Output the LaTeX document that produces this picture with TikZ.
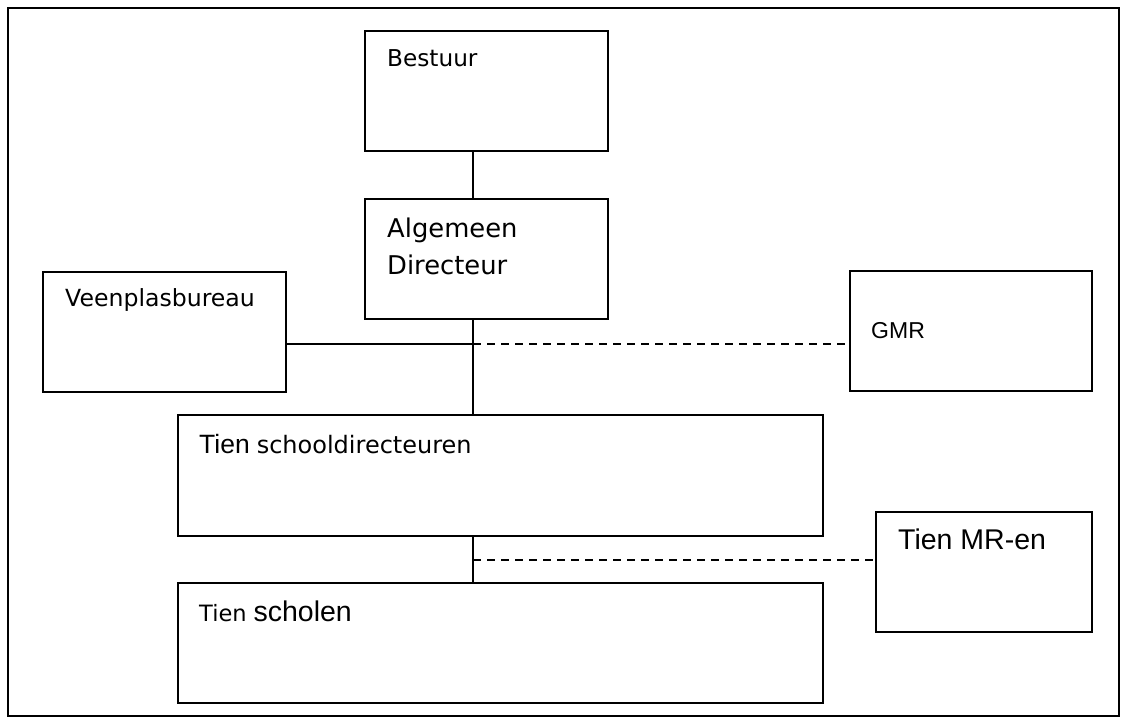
\documentclass[tikz,border=0pt]{standalone}
\usepackage{fontspec}
\setmainfont{DejaVu Sans}
\newfontfamily\arialf{Liberation Sans}
\begin{document}
\begin{tikzpicture}[x=1pt,y=-1pt,
  orgbox/.style={draw=black,line width=1.4pt,inner sep=0pt,minimum width=0pt,minimum height=0pt},
  link/.style={draw=black,line width=2pt},
  dashlink/.style={draw=black,line width=1.6pt,dash pattern=on 8pt off 6pt},
  lbl/.style={anchor=base west,inner sep=0pt,font=\fontsize{22}{26}\selectfont}]
\useasboundingbox (0,0) rectangle (1127,724);
\fill[white] (0,0) rectangle (1127,724);
\draw[line width=2pt] (8,8) rectangle (1119,716);
% boxes
\draw[orgbox] (365,31) rectangle (608,151);
\coordinate (bestuurS) at (473,151);
\draw[orgbox] (365,199) rectangle (608,319);
\coordinate (algN) at (473,199);
\coordinate (algS) at (473,319);
\draw[orgbox] (43,272) rectangle (286,392);
\coordinate (veenE) at (286,344);
\draw[orgbox] (850,271) rectangle (1092,391);
\coordinate (gmrW) at (850,344);
\draw[orgbox] (178,415) rectangle (823,536);
\coordinate (tsdN) at (473,415);
\coordinate (tsdS) at (473,536);
\draw[orgbox] (876,512) rectangle (1092,632);
\coordinate (mrW) at (876,560);
\draw[orgbox] (178,583) rectangle (823,703);
\coordinate (tsN) at (473,583);
\coordinate (j1) at (473,344);
\coordinate (j2) at (473,560);
% labels
\node[lbl,font=\fontsize{23.2}{26}\selectfont] (tb) at (387,66) {Bestuur};
\node[lbl,font=\fontsize{25.8}{26}\selectfont] (ta1) at (387,237) {Algemeen};
\node[lbl,font=\fontsize{25.8}{26}\selectfont] (ta2) at (387,274) {Directeur};
\node[lbl,font=\fontsize{23.6}{26}\selectfont] (tv) at (65,306) {Veenplasbureau};
\node[lbl,font=\arialf\fontsize{23}{26}\selectfont] (tg) at (871,338) {GMR};
\node[lbl] (tsd) at (199,453) {{\arialf\fontsize{26.5}{26}\selectfont Tien} {\fontsize{24}{26}\selectfont schooldirecteuren}};
\node[lbl] (ts) at (199,621) {{\fontsize{22.5}{26}\selectfont Tien} {\arialf\fontsize{28.5}{26}\selectfont scholen}};
\node[lbl,font=\arialf\fontsize{28.5}{26}\selectfont] (tm) at (898,549) {Tien MR-en};
% connectors
\draw[link] (bestuurS) -- (algN);
\draw[link] (algS) -- (tsdN);
\draw[link] (veenE) -- (j1);
\draw[dashlink] (j1) -- (gmrW);
\draw[link] (tsdS) -- (tsN);
\draw[dashlink] (j2) -- (mrW);
\end{tikzpicture}
\end{document}
